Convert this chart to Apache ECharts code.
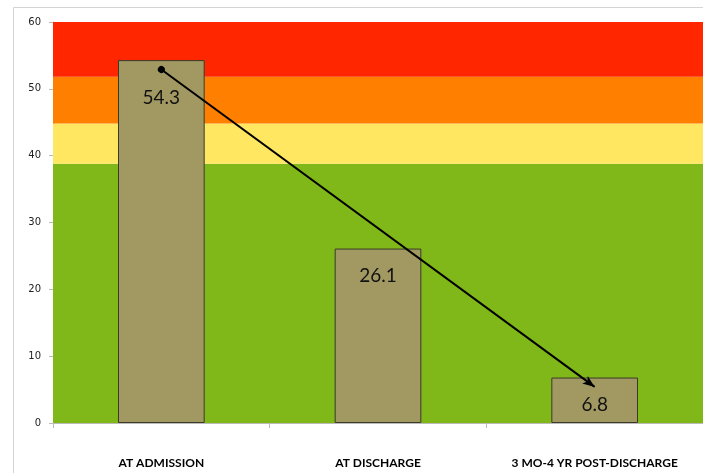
<!DOCTYPE html>
<html><head><meta charset="utf-8">
<script src="https://cdn.jsdelivr.net/npm/echarts@6/dist/echarts.min.js"></script>
<style>html,body{margin:0;padding:0;background:#fff}#c{width:703px;height:473px}</style>
</head><body><div id="c"></div>
<script>
const categories = ['AT ADMISSION', 'AT DISCHARGE', '3 MO-4 YR POST-DISCHARGE'];
const values = [54.3, 26.1, 6.8];
const bandEdges = [0, 38.8, 44.8, 51.8, 60];
const bandColors = ['#7fb818', '#ffe762', '#ff7f00', '#ff2600'];
const arrowStart = [categories[0], 52.9];
const arrowEnd = [categories[2], 5.4];
const labelDistance = [28, 18, 18];

const chart = echarts.init(document.getElementById('c'), null, {renderer: 'canvas'});
const bands = bandColors.map((c, i) => [
  {yAxis: bandEdges[i], itemStyle: {color: c}},
  {yAxis: bandEdges[i + 1]}
]);
chart.setOption({
  animation: false,
  graphic: [{type: 'rect', left: 11, top: 5, shape: {width: 800, height: 600},
    style: {fill: 'none', stroke: '#d4d4d4', lineWidth: 1}, z: -1}],
  grid: {left: 53, right: 0, top: 22, bottom: 50},
  xAxis: {
    type: 'category', data: categories,
    axisLine: {lineStyle: {color: '#bbbbbb'}},
    axisTick: {show: true, length: 5, lineStyle: {color: '#bbbbbb'}},
    axisLabel: {margin: 34, color: '#000', fontWeight: 'bold', fontSize: 12, fontFamily: 'Lato'}
  },
  yAxis: {
    type: 'value', min: 0, max: 60, interval: 10,
    axisLine: {show: true, lineStyle: {color: '#bbbbbb'}},
    axisTick: {show: true, length: 4, lineStyle: {color: '#bbbbbb'}},
    splitLine: {show: false},
    axisLabel: {color: '#222', fontSize: 10, margin: 12, fontFamily: 'DejaVu Sans'}
  },
  series: [
    {type: 'line', data: [], z: 1, markArea: {silent: true, data: bands}},
    {
      type: 'bar', z: 3, barWidth: '40%',
      data: values.map((v, i) => ({value: v, label: {distance: labelDistance[i]}})),
      itemStyle: {color: '#a29962', borderColor: '#3b3a28', borderWidth: 1},
      label: {show: true, position: 'insideTop', color: '#111', fontSize: 19, fontFamily: 'Lato'},
      markLine: {
        silent: true, z: 5,
        symbol: ['circle', 'arrow'], symbolSize: [7, 12],
        label: {show: false},
        lineStyle: {color: '#000', width: 2, type: 'solid'},
        data: [[{coord: arrowStart}, {coord: arrowEnd}]]
      }
    }
  ]
});
</script></body></html>
